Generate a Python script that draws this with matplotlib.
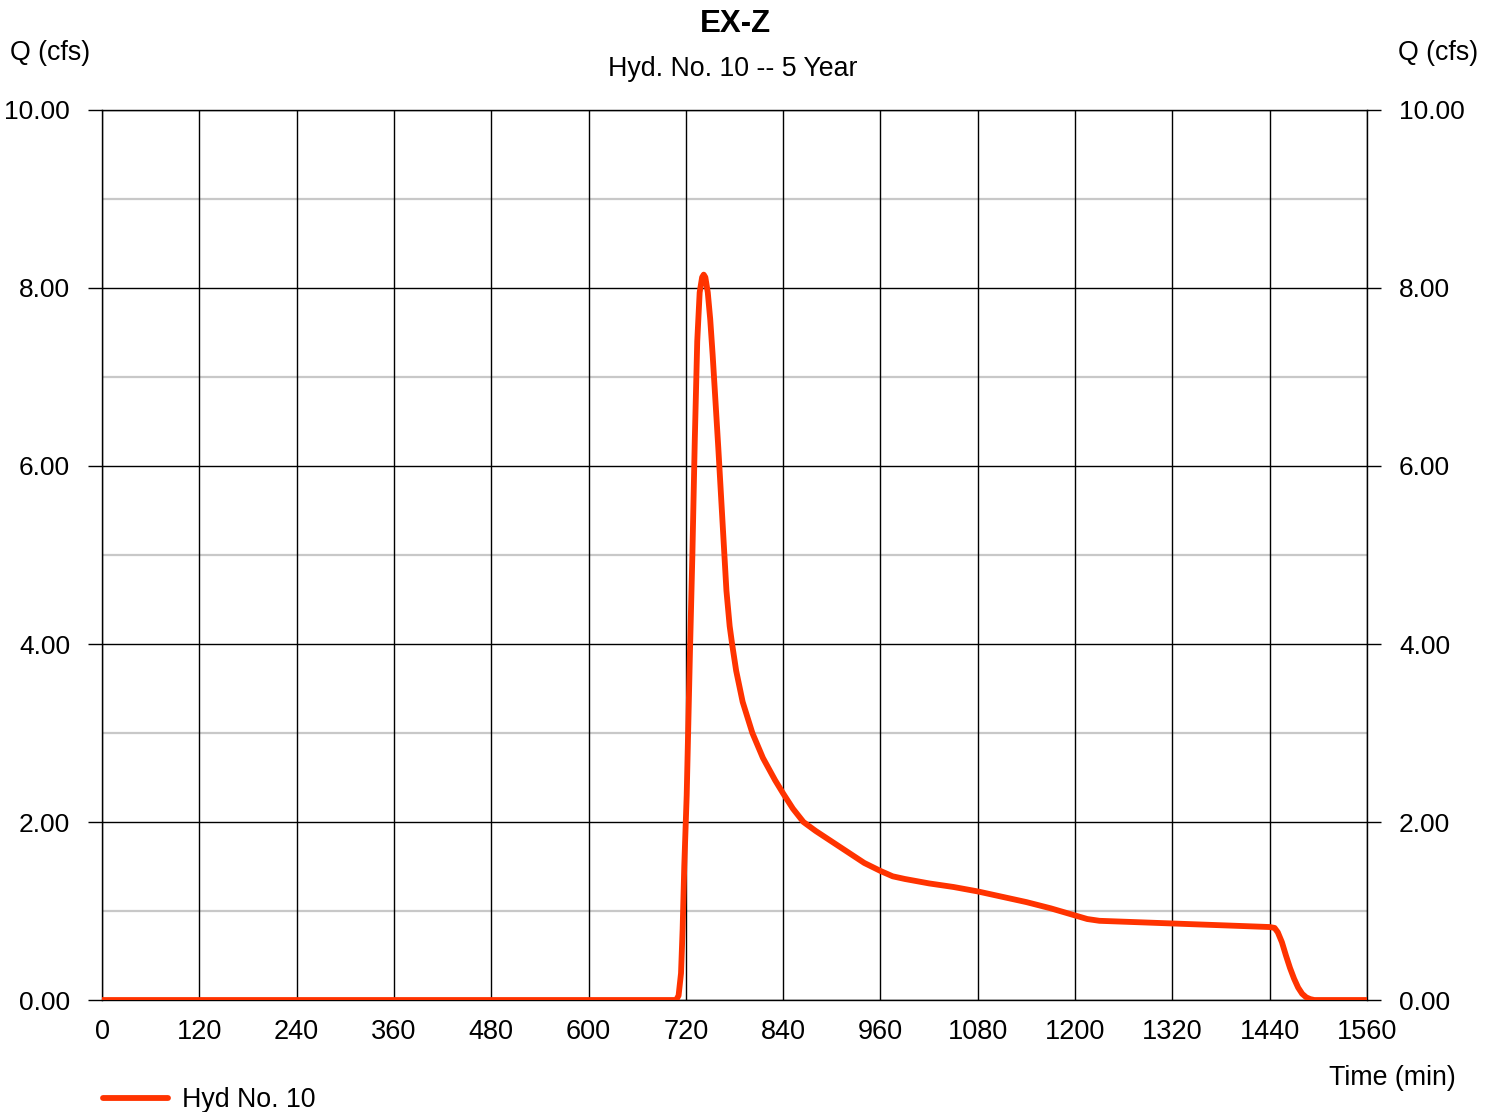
import numpy as np
import matplotlib.pyplot as plt
from matplotlib.lines import Line2D

plt.rcParams['font.family'] = ['Liberation Sans', 'DejaVu Sans']

# hydrograph
time_min = [0, 120, 240, 360, 480, 600, 700, 708, 711, 714, 716, 718, 721, 723, 725,
            728, 731, 734, 737, 740, 742, 744, 747, 750, 753, 756, 760, 765, 770,
            774, 777, 782, 790, 802, 815, 830, 840, 852, 865, 880, 900, 920, 940,
            960, 975, 990, 1020, 1050, 1080, 1110, 1140, 1170, 1200, 1215, 1230,
            1260, 1290, 1320, 1350, 1380, 1410, 1440, 1446, 1450, 1455, 1460, 1465,
            1470, 1475, 1480, 1485, 1490, 1495, 1520, 1560]
flow_cfs = [0, 0, 0, 0, 0, 0, 0, 0, 0.05, 0.3, 0.8, 1.5, 2.3, 3.1, 3.9,
            5.0, 6.3, 7.4, 7.95, 8.12, 8.15, 8.12, 7.95, 7.65, 7.25, 6.8, 6.2, 5.4, 4.6,
            4.2, 4.0, 3.7, 3.35, 3.0, 2.72, 2.47, 2.32, 2.15, 2.0, 1.9, 1.78, 1.66, 1.54,
            1.45, 1.39, 1.36, 1.31, 1.27, 1.22, 1.16, 1.1, 1.03, 0.95, 0.91, 0.89,
            0.88, 0.87, 0.86, 0.85, 0.84, 0.83, 0.82, 0.81, 0.76, 0.65, 0.5, 0.36,
            0.24, 0.14, 0.07, 0.03, 0.01, 0, 0, 0]

x_ticks = list(range(0, 1561, 120))
y_major = [0, 2, 4, 6, 8, 10]
y_minor = [1, 3, 5, 7, 9]

fig = plt.figure(figsize=(14.96, 11.12), dpi=100)
ax = fig.add_axes([0.0682, 0.1007, 0.8456, 0.8004])

line_color = '#FF3300'
ax.plot(time_min, flow_cfs, color=line_color, lw=4.2, solid_capstyle='round',
        solid_joinstyle='round', zorder=3)

ax.set_xlim(0, 1560)
ax.set_ylim(0, 10)
ax.set_xticks(x_ticks)
ax.set_yticks(y_major)
ax.set_yticks(y_minor, minor=True)
ax.set_yticklabels([f'{v:.2f}' for v in y_major])

for y in y_minor:
    ax.axhline(y, color='#c8c8c8', lw=1.6, zorder=1)
for y in y_major:
    ax.axhline(y, color='black', lw=1.0, zorder=2)
for x in x_ticks:
    ax.axvline(x, color='black', lw=1.0, zorder=2)

for s in ax.spines.values():
    s.set_linewidth(1.0)

ax.tick_params(axis='y', which='major', length=10, width=1.0, labelsize=19,
               pad=13, right=True, labelright=True)
ax.tick_params(axis='y', which='minor', length=0)
ax.tick_params(axis='x', length=0, labelsize=19.5, pad=14)

fig.text(0.4913, 0.978, 'EX-Z', ha='center', va='center', fontsize=22.5, fontweight='bold')
fig.text(0.4900, 0.9378, 'Hyd. No. 10 -- 5 Year', ha='center', va='center', fontsize=19.3)
fig.text(0.0067, 0.9523, 'Q (cfs)', ha='left', va='center', fontsize=19.3)
fig.text(0.9880, 0.9523, 'Q (cfs)', ha='right', va='center', fontsize=19.3)
fig.text(0.9730, 0.0305, 'Time (min)', ha='right', va='center', fontsize=19.3)

leg_handle = Line2D([], [], color=line_color, lw=4.2, solid_capstyle='round')
fig.legend([leg_handle], ['Hyd No. 10'], loc='lower left', bbox_to_anchor=(0.053, -0.023),
           frameon=False, fontsize=19.3, handlelength=2.4, handletextpad=0.55)

fig.savefig('out.png', dpi=100)
